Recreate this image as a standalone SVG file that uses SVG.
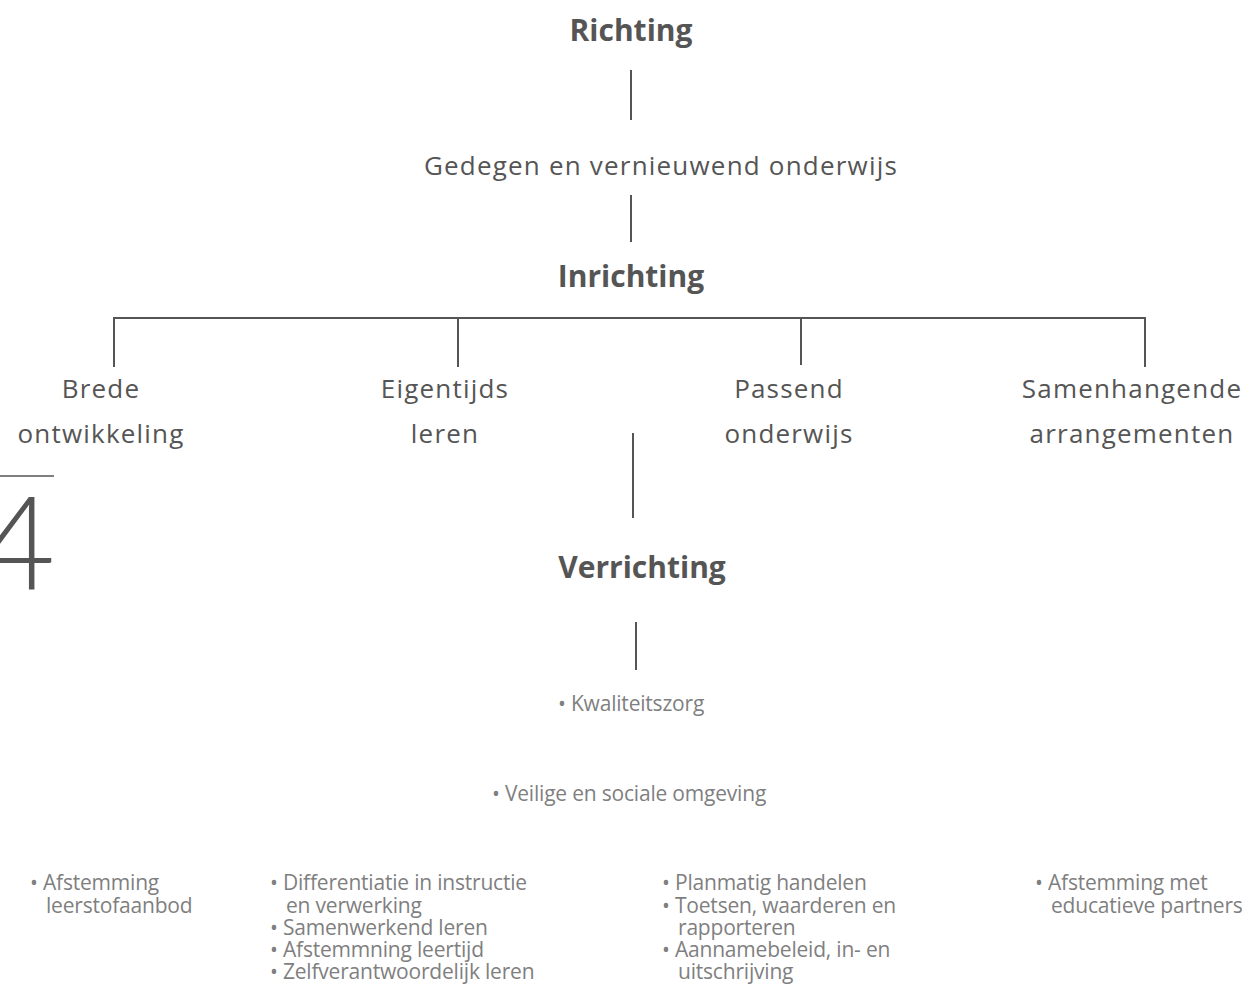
<svg xmlns="http://www.w3.org/2000/svg" width="1253" height="985" viewBox="0 0 1253 985">
<style>
.h{font-family:"Open Sans","Liberation Sans",sans-serif;font-weight:bold;font-size:30px;fill:#555;text-anchor:middle}
.m{font-family:"Open Sans","Liberation Sans",sans-serif;font-size:26px;fill:#555;text-anchor:middle;letter-spacing:1.2px}
.b{font-family:"Open Sans","Liberation Sans",sans-serif;font-size:21px;fill:#7f7f7f;letter-spacing:-0.2px}
.ln{stroke:#555;stroke-width:2;fill:none}
</style>
<rect width="1253" height="985" fill="#fff"/>
<g id="connectors">
<line class="ln" x1="631" y1="70" x2="631" y2="120"/>
<line class="ln" x1="631" y1="195" x2="631" y2="242"/>
<polyline class="ln" points="114,367 114,318 1145,318 1145,367"/>
<line class="ln" x1="458" y1="318" x2="458" y2="367"/>
<line class="ln" x1="801" y1="318" x2="801" y2="365"/>
<line class="ln" x1="633" y1="433" x2="633" y2="518"/>
<line class="ln" x1="636" y1="622" x2="636" y2="670"/>
</g>
<g id="richting"><text class="h" x="631" y="41">Richting</text></g>
<g id="gedegen"><text class="m" x="661" y="175">Gedegen en vernieuwend onderwijs</text></g>
<g id="inrichting"><text class="h" x="631" y="287">Inrichting</text></g>
<g id="brede"><text class="m" x="101" y="398">Brede</text><text class="m" x="101" y="443">ontwikkeling</text></g>
<g id="eigentijds"><text class="m" x="445" y="398">Eigentijds</text><text class="m" x="445" y="443">leren</text></g>
<g id="passend"><text class="m" x="789" y="398">Passend</text><text class="m" x="789" y="443">onderwijs</text></g>
<g id="samenhangende"><text class="m" x="1132" y="398">Samenhangende</text><text class="m" x="1132" y="443">arrangementen</text></g>
<g id="verrichting"><text class="h" x="642" y="578">Verrichting</text></g>
<g id="kwaliteit"><text class="b" x="558" y="711">•&#160;Kwaliteitszorg</text></g>
<g id="veilige"><text class="b" x="492" y="801">•&#160;Veilige en sociale omgeving</text></g>
<g id="page">
<line x1="0" y1="476" x2="54" y2="476" stroke="#555" stroke-width="1.5"/>
<text x="-20" y="590" font-family="Lato,'Open Sans',sans-serif" font-weight="300" font-size="130" fill="#555">4</text>
</g>
<g id="col1"><text class="b" x="30" y="890">•&#160;Afstemming</text><text class="b" x="46" y="913">leerstofaanbod</text></g>
<g id="col2"><text class="b" x="270" y="890">•&#160;Differentiatie in instructie</text><text class="b" x="286" y="913">en verwerking</text><text class="b" x="270" y="935">•&#160;Samenwerkend leren</text><text class="b" x="270" y="957">•&#160;Afstemmning leertijd</text><text class="b" x="270" y="979">•&#160;Zelfverantwoordelijk leren</text></g>
<g id="col3"><text class="b" x="662" y="890">•&#160;Planmatig handelen</text><text class="b" x="662" y="913">•&#160;Toetsen, waarderen en</text><text class="b" x="678" y="935">rapporteren</text><text class="b" x="662" y="957">•&#160;Aannamebeleid, in- en</text><text class="b" x="678" y="979">uitschrijving</text></g>
<g id="col4"><text class="b" x="1035" y="890">•&#160;Afstemming met</text><text class="b" x="1051" y="913">educatieve partners</text></g>
</svg>
